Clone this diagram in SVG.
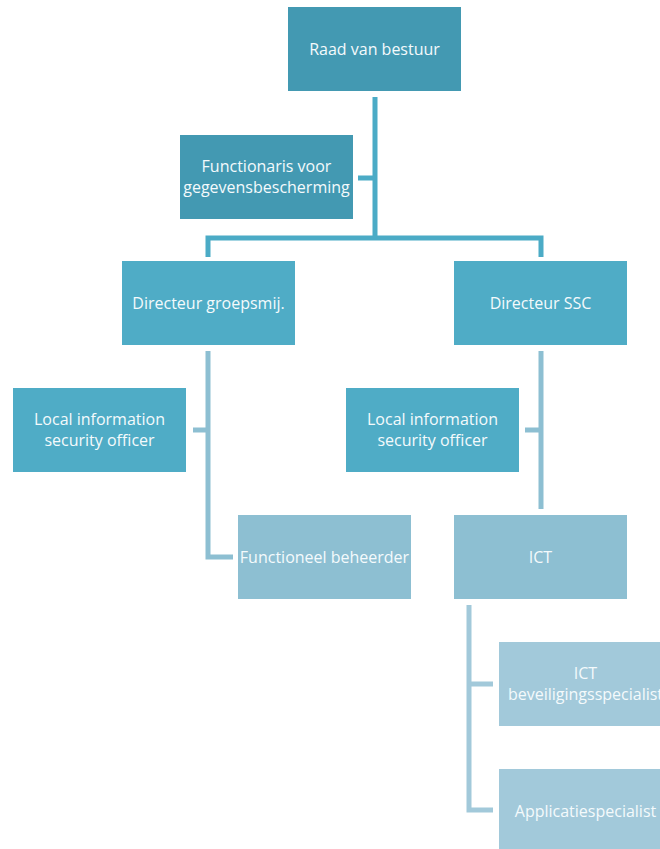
<svg xmlns="http://www.w3.org/2000/svg" width="660" height="849" viewBox="0 0 660 849">
<style>
text{font-family:"Open Sans","Noto Sans","Liberation Sans",sans-serif;font-size:16px;fill:#F4FAFC;text-anchor:middle}
.c1{fill:#4399B2}.c2{fill:#4FACC6}.c3{fill:#8DBFD2}.c4{fill:#A2C9DA}
.l1{stroke:#4BABC6;stroke-width:5;fill:none}
.l2{stroke:#8DBFD2;stroke-width:5;fill:none}
.l3{stroke:#A2C9DA;stroke-width:5;fill:none}
</style>
<rect width="660" height="849" fill="#fff"/>
<g id="connectors">
<path class="l1" d="M375 97V238M358 178H375M208 257V238H541V257"/>
<path class="l2" d="M208 351V557H233M193 430H208M541 351V509M525 430H541"/>
<path class="l3" d="M469 605V810H493M469 684H493"/>
</g>
<g id="raad"><rect class="c1" x="288" y="7" width="173" height="84"/><text x="374.5" y="55">Raad van bestuur</text></g>
<g id="functionaris"><rect class="c1" x="180" y="135" width="173" height="84"/><text x="266.5" y="172">Functionaris voor</text><text x="266.5" y="193">gegevensbescherming</text></g>
<g id="dir-groep"><rect class="c2" x="122" y="261" width="173" height="84"/><text x="208.5" y="309">Directeur groepsmij.</text></g>
<g id="dir-ssc"><rect class="c2" x="454" y="261" width="173" height="84"/><text x="540.5" y="309">Directeur SSC</text></g>
<g id="liso-left"><rect class="c2" x="13" y="388" width="173" height="84"/><text x="99.5" y="425">Local information</text><text x="99.5" y="446">security officer</text></g>
<g id="liso-right"><rect class="c2" x="346" y="388" width="173" height="84"/><text x="432.5" y="425">Local information</text><text x="432.5" y="446">security officer</text></g>
<g id="func-beheerder"><rect class="c3" x="238" y="515" width="173" height="84"/><text x="324.5" y="563">Functioneel beheerder</text></g>
<g id="ict"><rect class="c3" x="454" y="515" width="173" height="84"/><text x="540.5" y="563">ICT</text></g>
<g id="ict-bev"><rect class="c4" x="499" y="642" width="173" height="84"/><text x="585.5" y="679">ICT</text><text x="585.5" y="700">beveiligingsspecialist</text></g>
<g id="applicatie"><rect class="c4" x="499" y="769" width="173" height="84"/><text x="585.5" y="817">Applicatiespecialist</text></g>
</svg>
